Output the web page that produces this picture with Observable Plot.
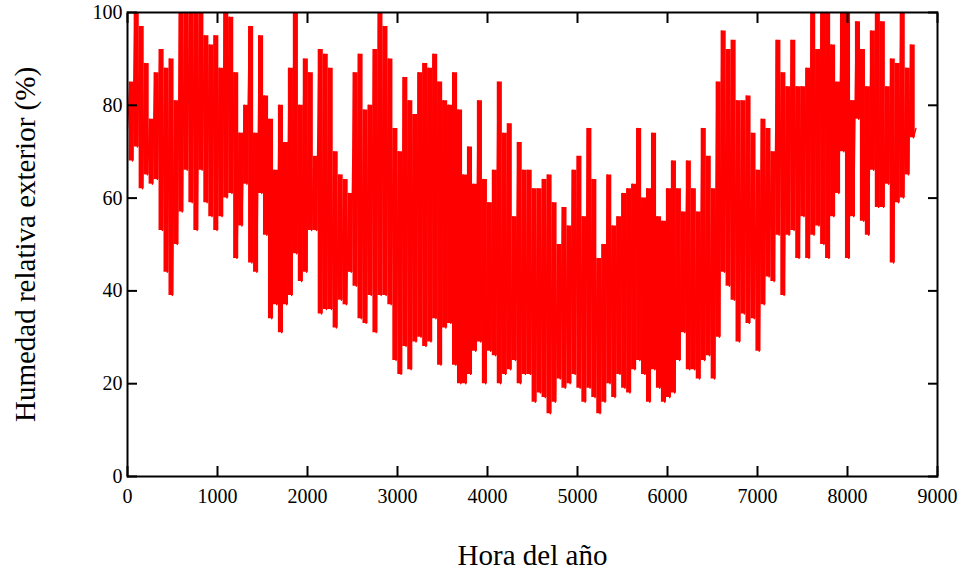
<!DOCTYPE html>
<html><head><meta charset="utf-8">
<script src="https://cdn.jsdelivr.net/npm/d3@7"></script>
<script src="https://cdn.jsdelivr.net/npm/@observablehq/plot@0.6"></script>
<style>
body{margin:0;background:#fff;}
svg{display:block}
g[aria-label="x-axis label"] text, g[aria-label="y-axis label"] text { font-size: 29px; }
</style></head><body><div id="chart"></div>
<script>
// Outdoor relative humidity (%) over the hours of the year: daily highs / lows
const rhStart = 75, rhEnd = 75;
const highs = [85,100,97,89,77,87,92,88,90,81,100,100,100,100,100,95,93,95,88,100,
99,87,74,80,97,74,95,82,77,66,80,72,88,100,80,90,87,69,92,91,
88,70,65,64,61,87,91,79,80,92,100,97,90,75,70,86,81,78,87,89,
88,91,85,81,80,87,79,65,71,63,81,64,59,66,85,74,76,56,72,66,
66,62,62,64,65,59,50,58,54,66,69,56,75,64,47,50,65,54,56,61,
62,63,75,60,62,74,56,55,62,68,62,57,68,62,57,75,69,62,85,96,
92,94,81,81,82,74,66,77,75,70,94,87,84,94,84,84,88,100,92,100,
100,93,85,100,100,81,98,92,84,96,100,98,84,90,89,100,88,93];
const lows = [68,71,62,65,63,64,53,44,39,50,57,66,59,53,66,59,56,53,56,60,
61,47,54,63,46,44,61,52,34,37,31,37,39,48,42,44,53,53,35,36,
36,32,38,37,44,41,34,33,39,31,39,39,37,25,22,28,23,29,30,28,
29,34,24,32,33,24,20,20,22,27,29,20,27,26,20,22,23,25,20,22,
22,16,18,17,13.5,16,21,19,20,22,19,16,19,17,13.5,16,20,17,22,19,
18,23,25,22,16,23,19,16,17,18,25,31,23,23,21,25,26,21,30,44,
41,38,29,35,33,34,27,37,43,42,52,39,52,53,47,56,47,52,54,50,
47,56,61,70,47,56,77,55,52,66,58,58,63,46,59,60,65,73];
const xTicks = [0,1000,2000,3000,4000,5000,6000,7000,8000,9000];
const yTicks = [0,20,40,60,80,100];
const hoursInYear = 8760;

const rh = [rhStart];
highs.forEach((h, i) => { rh.push(h, lows[i]); });
rh.push(rhEnd);
const step = hoursInYear / (rh.length - 1);
const data = rh.map((v, i) => ({hour: i * step, rh: v}));
// one band per high/low pair (the hourly swings fill this range)
const pairs = highs.map((h, i) => ({hour: (2 * i + 1.5) * step, hi: h, lo: lows[i]}));

const chart = Plot.plot({
  width: 965, height: 574,
  marginLeft: 127, marginRight: 28, marginTop: 12, marginBottom: 98,
  style: {fontFamily: '"Liberation Serif", "Times New Roman", serif', fontSize: "20px", color: "#000", background: "#fff"},
  x: {domain: [0, 9000]},
  y: {domain: [0, 100]},
  marks: [
    Plot.ruleX(pairs, {x: "hour", y1: "lo", y2: "hi", stroke: "#ff0000", strokeWidth: 5.1}),
    Plot.lineY(data, {x: "hour", y: "rh", stroke: "#ff0000", strokeWidth: 1.4}),
    Plot.axisX(xTicks, {anchor: "bottom", tickSize: 0, tickPadding: 12, tickFormat: d => String(d), label: "Hora del año", labelAnchor: "center", labelOffset: 88, labelArrow: "none"}),
    Plot.axisX(xTicks, {anchor: "bottom", tickSize: 10, dy: -10, tickFormat: () => "", label: null, strokeWidth: 2}),
    Plot.axisX(xTicks, {anchor: "top", tickSize: 10, dy: 10, tickFormat: () => "", label: null, strokeWidth: 2}),
    Plot.axisY(yTicks, {anchor: "left", tickSize: 0, tickPadding: 5, tickFormat: d => String(d), label: "Humedad relativa exterior (%)", labelAnchor: "center", labelOffset: 113, labelArrow: "none"}),
    Plot.axisY(yTicks, {anchor: "left", tickSize: 10, dx: 10, tickFormat: () => "", label: null, strokeWidth: 2}),
    Plot.axisY(yTicks, {anchor: "right", tickSize: 10, dx: -10, tickFormat: () => "", label: null, strokeWidth: 2}),
    Plot.frame({stroke: "#000", strokeWidth: 2})
  ]
});
document.getElementById("chart").append(chart);
</script></body></html>
